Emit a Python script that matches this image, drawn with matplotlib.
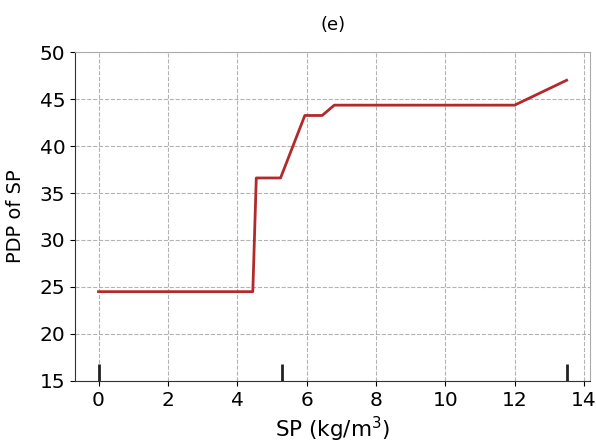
import numpy as np
import matplotlib
matplotlib.use("Agg")
import matplotlib.pyplot as plt

# partial dependence curve for SP
sp_grid = [0.0, 4.45, 4.55, 5.25, 5.95, 6.45, 6.8, 12.0, 13.5]
pdp_sp = [24.5, 24.5, 36.6, 36.6, 43.25, 43.25, 44.35, 44.35, 47.0]

# deciles shown as rug marks
sp_deciles = [0.0, 5.3, 13.5]

fig = plt.figure(figsize=(5.96, 4.45), dpi=100)
ax = fig.add_axes([0.126, 0.144, 0.864, 0.739])

ax.plot(sp_grid, pdp_sp, color="#b22a2a", lw=2)
ax.vlines(sp_deciles, 0, 0.05, transform=ax.get_xaxis_transform(),
          color="#222222", lw=2)

ax.set_ylim(15, 50)
ax.set_xticks(np.arange(0, 15, 2))
ax.set_yticks(np.arange(15, 51, 5))
ax.tick_params(labelsize=14.5)
ax.grid(True, linestyle="--", color="gray", alpha=0.6, lw=0.8)

for s in ["top", "right"]:
    ax.spines[s].set_color("#aaaaaa")
for s in ["left", "bottom"]:
    ax.spines[s].set_color("#333333")

ax.set_xlabel("SP (kg/m$^3$)", fontsize=15.5)
ax.set_ylabel("PDP of SP", fontsize=14)
ax.yaxis.set_label_coords(-0.097, 0.5)
ax.set_title("(e)", fontsize=13, pad=16)

plt.savefig("out.png")
